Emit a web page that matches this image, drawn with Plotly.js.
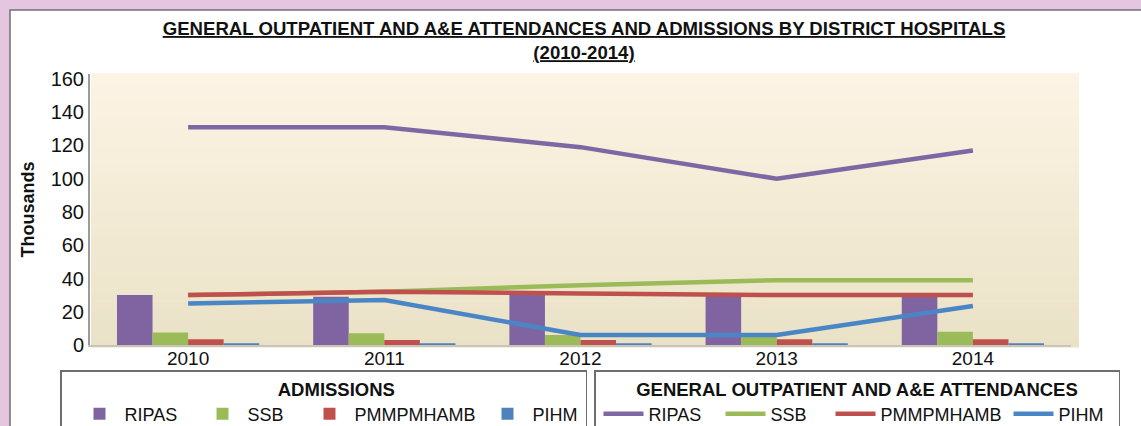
<!DOCTYPE html>
<html>
<head>
<meta charset="utf-8">
<script src="https://cdn.plot.ly/plotly-3.0.1.min.js"></script>
<style>
html,body{margin:0;padding:0;background:#e4c6e0;}
#chart{width:1141px;height:426px;}
</style>
</head>
<body>
<div id="chart"></div>
<script>
// ---- data (thousands) ----
const years = ['2010', '2011', '2012', '2013', '2014'];
const seriesNames = ['RIPAS', 'SSB', 'PMMPMHAMB', 'PIHM'];
const yTicks = [0, 20, 40, 60, 80, 100, 120, 140, 160];

// Admissions (bars)
const admRIPAS = [30, 29, 31, 30.5, 29.5];
const admSSB   = [7.5, 7, 6, 5.5, 8];
const admPMM   = [3.5, 3, 3, 3.5, 3.5];
const admPIHM  = [1, 1, 1, 1, 1];

// General outpatient and A&E attendances (lines)
const opdRIPAS = [131, 131, 119, 100, 117];
const opdSSB   = [30, 32, 36, 39, 39];
const opdPMM   = [30, 32, 31, 30, 30];
const opdPIHM  = [25, 27, 6, 6, 23.5];

// ---- styling / geometry ----
const W = 1141, H = 426, L = 90, R = 70, T = 74, B = 81;
const PW = W - L - R, PH = H - T - B;
const px = x => (x - L) / PW;
const py = y => (H - B - y) / PH;
const FONT = 'Liberation Sans, Arial, Helvetica, sans-serif';

const barColors  = ['#8064a2', '#9bbb59', '#c0504d', '#4f81bd'];
const lineColors = ['#7d68a3', '#9bbb59', '#c0504d', '#4a86c5'];
const admSeries = [admRIPAS, admSSB, admPMM, admPIHM];
const opdSeries = [opdRIPAS, opdSSB, opdPMM, opdPIHM];
const admLegendWidths = [55, 39, 110, 48];
const opdLegendWidths = [64, 52, 120, 55];

const traces = [];
admSeries.forEach((vals, i) => {
  traces.push({
    type: 'bar', x: years, y: vals, name: seriesNames[i],
    marker: {color: barColors[i]}, legend: 'legend',
    legendwidth: admLegendWidths[i], hoverinfo: 'skip'
  });
});
opdSeries.forEach((vals, i) => {
  traces.push({
    type: 'scatter', mode: 'lines', x: years, y: vals, name: seriesNames[i],
    line: {color: lineColors[i], width: 4.5}, legend: 'legend2',
    legendwidth: opdLegendWidths[i], hoverinfo: 'skip'
  });
});

// background shapes: white panel + beige vertical gradient plot area
const shapes = [{
  type: 'rect', xref: 'paper', yref: 'paper', layer: 'below',
  x0: px(10), x1: px(1160), y0: py(450), y1: py(10),
  fillcolor: '#ffffff', line: {color: '#707070', width: 1.5}
}];
const gradTop = [253, 243, 228], gradBot = [234, 226, 199];
const N = 30, yTop = 73, yBot = 347;
for (let k = 0; k < N; k++) {
  const t = k / (N - 1);
  const c = gradTop.map((v, j) => Math.round(v + (gradBot[j] - v) * t));
  const y0 = yTop + (yBot - yTop) * k / N, y1 = yTop + (yBot - yTop) * (k + 1) / N;
  shapes.push({
    type: 'rect', xref: 'paper', yref: 'paper', layer: 'below',
    x0: px(91), x1: px(1079), y0: py(y1 + 0.5), y1: py(y0),
    fillcolor: `rgb(${c[0]},${c[1]},${c[2]})`, line: {width: 0}
  });
}

const legendBase = {
  orientation: 'h', xanchor: 'left', yanchor: 'top',
  bgcolor: '#ffffff', bordercolor: '#6e6e6e', borderwidth: 1.5,
  font: {family: FONT, size: 18, color: '#111'}, itemwidth: 40,
  traceorder: 'normal'
};

const layout = {
  width: W, height: H,
  margin: {l: L, r: R, t: T, b: B, pad: 0, autoexpand: false},
  paper_bgcolor: '#e4c6e0',
  plot_bgcolor: 'rgba(0,0,0,0)',
  font: {family: FONT, color: '#111'},
  showlegend: true,
  title: {
    text: '<u><b>GENERAL OUTPATIENT AND A&amp;E ATTENDANCES AND ADMISSIONS BY DISTRICT HOSPITALS</b></u><br><u><b>(2010-2014)</b></u>',
    font: {family: FONT, size: 18.6, color: '#111'},
    xref: 'container', x: 584 / W, xanchor: 'center',
    yref: 'container', y: 1 - 35 / H, yanchor: 'top'
  },
  barmode: 'group', bargap: 0.275, bargroupgap: 0,
  xaxis: {
    type: 'category', categoryorder: 'array', categoryarray: years,
    showline: true, linecolor: '#c9c4ba', linewidth: 1.5,
    showgrid: false, zeroline: false, ticks: '', automargin: false,
    tickfont: {family: FONT, size: 19, color: '#111'},
    ticklabelstandoff: -4, fixedrange: true
  },
  yaxis: {
    range: [0, 163], tickmode: 'array', tickvals: yTicks,
    ticktext: yTicks.map(String),
    showline: true, linecolor: '#9b9b9b', linewidth: 2,
    showgrid: false, zeroline: false, ticks: '', automargin: false,
    tickfont: {family: FONT, size: 20, color: '#111'},
    ticklabelstandoff: 0, fixedrange: true,
    title: {text: '<b>Thousands</b>', font: {family: FONT, size: 18, color: '#111'}, standoff: 11}
  },
  legend: Object.assign({}, legendBase, {
    x: px(60), y: py(370), indentation: 13,
    title: {text: '&nbsp;&nbsp;&nbsp;&nbsp;&nbsp;<b>ADMISSIONS</b>', side: 'top center', font: {family: FONT, size: 18.5, color: '#111'}}
  }),
  legend2: Object.assign({}, legendBase, {
    x: px(594), y: py(370), indentation: 3,
    title: {text: '<b>GENERAL OUTPATIENT AND A&amp;E ATTENDANCES</b>', side: 'top center', font: {family: FONT, size: 18.5, color: '#111'}}
  }),
  shapes: shapes
};

Plotly.newPlot('chart', traces, layout, {displayModeBar: false, staticPlot: true});
</script>
</body>
</html>
